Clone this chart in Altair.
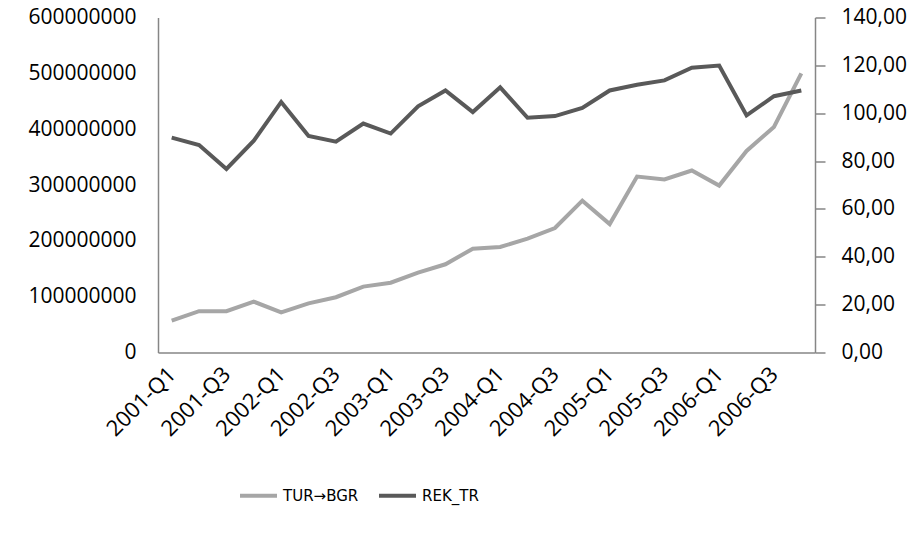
import altair as alt
import pandas as pd

quarters = [f"{y}-Q{q}" for y in range(2001, 2007) for q in range(1, 5)]
tur_bgr = [57e6, 74e6, 74e6, 91e6, 72e6, 88e6, 99e6, 118e6, 125e6, 143e6, 158e6, 186e6,
           189e6, 204e6, 223e6, 272e6, 230e6, 315e6, 310e6, 326e6, 299e6, 361e6, 404e6, 500e6]
rek_tr = [89.8, 86.7, 76.7, 88.5, 104.7, 90.5, 88.1, 95.7, 91.5, 102.9, 109.5, 100.5,
          110.8, 98.1, 98.8, 102.2, 109.5, 111.9, 113.7, 119.0, 119.9, 99.1, 107.1, 109.5]

series = ["TUR→BGR", "REK_TR"]
colors = ["#a6a6a6", "#595959"]

df1 = pd.DataFrame({"q": quarters, "v": tur_bgr, "s": series[0]})
df2 = pd.DataFrame({"q": quarters, "v": rek_tr, "s": series[1]})

FONT = "Open Sans"
FS = 21

x_enc = alt.X("q:N", sort=quarters, title=None,
              scale=alt.Scale(paddingOuter=0.5),
              axis=alt.Axis(values=quarters[::2], labelAngle=-45, labelAlign="right",
                            labelBaseline="middle", ticks=False, domainColor="#868686",
                            labelFont=FONT, labelFontSize=22, labelColor="#000000",
                            labelPadding=18, domainWidth=1.5))

color_enc = alt.Color("s:N", scale=alt.Scale(domain=series, range=colors), title=None,
                      legend=alt.Legend(orient="none", legendX=80, legendY=457.5,
                                        direction="horizontal", symbolType="stroke",
                                        symbolSize=1369, symbolStrokeWidth=4,
                                        labelFont="DejaVu Sans", labelFontSize=15,
                                        labelColor="#000000",
                                        columnPadding=12, labelOffset=4))

left = alt.Chart(df1).mark_line(strokeWidth=4).encode(
    x=x_enc,
    y=alt.Y("v:Q", title=None,
            scale=alt.Scale(domain=[0, 600000000], nice=False),
            axis=alt.Axis(values=[i * 100000000 for i in range(7)], format="d", grid=False,
                          ticks=False, domainColor="#868686", domainWidth=1.5,
                          labelFont=FONT, labelFontSize=FS, labelColor="#000000",
                          labelPadding=22)),
    color=color_enc,
)

right = alt.Chart(df2).mark_line(strokeWidth=4).encode(
    x=x_enc,
    y=alt.Y("v:Q", title=None,
            scale=alt.Scale(domain=[0, 140], nice=False),
            axis=alt.Axis(orient="right", values=list(range(0, 141, 20)), grid=False,
                          labelExpr="replace(format(datum.value, '.2f'), '.', ',')",
                          tickSize=10, tickColor="#868686", tickWidth=1.5,
                          domainColor="#868686", domainWidth=1.5,
                          labelFont=FONT, labelFontSize=FS, labelColor="#000000",
                          labelPadding=16)),
    color=color_enc,
)

chart = alt.layer(left, right).resolve_scale(y="independent").properties(
    width=657, height=335,
    autosize=alt.AutoSizeParams(type="none"),
    padding={"left": 150, "top": 9.5, "right": 97, "bottom": 177.5},
    background="#ffffff",
).configure_view(stroke=None)

chart.save("out.html", embed_options={"renderer": "svg", "actions": False})
